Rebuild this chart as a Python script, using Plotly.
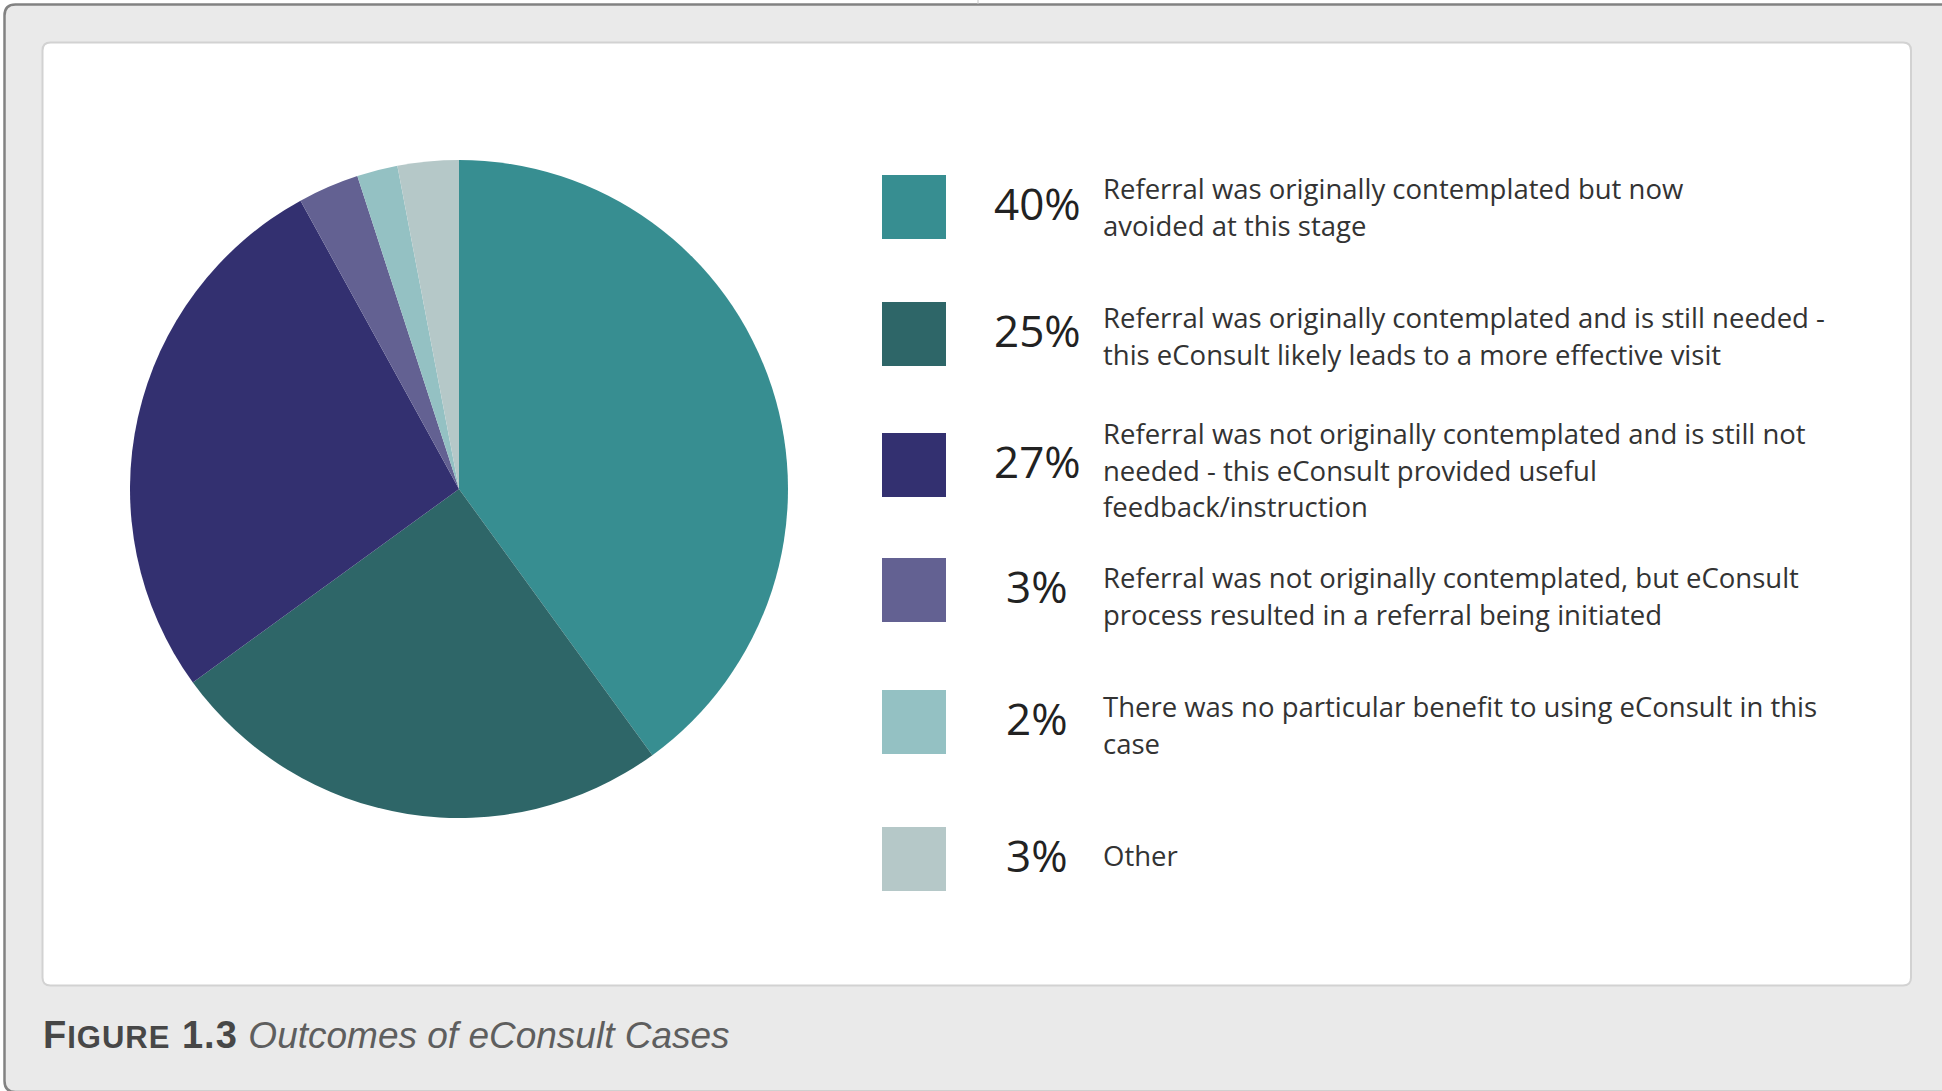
import plotly.graph_objects as go

# ---- data -------------------------------------------------------------
shares = [40, 25, 27, 3, 2, 3]
outcome_lines = [
    ["Referral was originally contemplated but now", "avoided at this stage"],
    ["Referral was originally contemplated and is still needed -",
     "this eConsult likely leads to a more effective visit"],
    ["Referral was not originally contemplated and is still not",
     "needed - this eConsult provided useful", "feedback/instruction"],
    ["Referral was not originally contemplated, but eConsult",
     "process resulted in a referral being initiated"],
    ["There was no particular benefit to using eConsult in this", "case"],
    ["Other"],
]
slice_colors = ["#378E91", "#2E6668", "#333070", "#636192", "#94C1C3", "#B5C8C8"]
caption_num = "1.3"
caption_title = "Outcomes of eConsult Cases"

# ---- page geometry (pixels) ------------------------------------------
W, H = 1942, 1091


def px(x):
    return x / W


def py(y):
    return 1 - y / H


def rounded_rect(x0, y0, x1, y1, r):
    pts = [
        f"M {px(x0 + r)},{py(y0)}",
        f"L {px(x1 - r)},{py(y0)}",
        f"Q {px(x1)},{py(y0)} {px(x1)},{py(y0 + r)}",
        f"L {px(x1)},{py(y1 - r)}",
        f"Q {px(x1)},{py(y1)} {px(x1 - r)},{py(y1)}",
        f"L {px(x0 + r)},{py(y1)}",
        f"Q {px(x0)},{py(y1)} {px(x0)},{py(y1 - r)}",
        f"L {px(x0)},{py(y0 + r)}",
        f"Q {px(x0)},{py(y0)} {px(x0 + r)},{py(y0)}",
        "Z",
    ]
    return " ".join(pts)


pie_cx, pie_cy, pie_r = 459, 489, 329
swatch_centers = [207, 334, 465, 590, 722, 859]
text_centers = [207, 336, 470, 596, 725, 855]
swatch = 64
swatch_x = 882
pct_x = 1037
text_x = 1101
line_gap = 36.5

fig = go.Figure()

fig.add_trace(go.Pie(
    values=shares,
    labels=[" ".join(l) for l in outcome_lines],
    marker=dict(colors=slice_colors, line=dict(width=0)),
    sort=False,
    direction="clockwise",
    rotation=0,
    textinfo="none",
    hoverinfo="skip",
    showlegend=False,
    domain=dict(x=[px(pie_cx - pie_r), px(pie_cx + pie_r)],
                y=[py(pie_cy + pie_r), py(pie_cy - pie_r)]),
))

shapes = [
    # outer grey frame
    dict(type="path", path=rounded_rect(4.5, 4.5, 1990, 1092, 11),
         xref="paper", yref="paper", fillcolor="#EAEAEA",
         line=dict(color="#828282", width=2.5), layer="below"),
    # small tick above the frame
    dict(type="line", x0=px(978), x1=px(978), y0=py(0), y1=py(4),
         xref="paper", yref="paper", line=dict(color="#C8C8C8", width=1), layer="below"),
    # white chart panel
    dict(type="path", path=rounded_rect(42.5, 42.5, 1911, 985.5, 8),
         xref="paper", yref="paper", fillcolor="#FFFFFF",
         line=dict(color="#D2D2D2", width=2), layer="below"),
]

annotations = []
for i, (val, lines, col) in enumerate(zip(shares, outcome_lines, slice_colors)):
    yc = swatch_centers[i]
    shapes.append(dict(type="rect", xref="paper", yref="paper",
                       x0=px(swatch_x), x1=px(swatch_x + swatch),
                       y0=py(yc + swatch / 2), y1=py(yc - swatch / 2),
                       fillcolor=col, line=dict(width=0), layer="above"))
    annotations.append(dict(
        x=px(pct_x), y=py(yc - 4), xref="paper", yref="paper",
        xanchor="center", yanchor="middle", showarrow=False,
        text=f"{val}%",
        font=dict(family="Open Sans", size=44, color="#222222"),
    ))
    n = len(lines)
    for j, line in enumerate(lines):
        ly = text_centers[i] + (j - (n - 1) / 2) * line_gap
        annotations.append(dict(
            x=px(text_x), y=py(ly), xref="paper", yref="paper",
            xanchor="left", yanchor="middle", showarrow=False,
            text=line,
            font=dict(family="Open Sans", size=27.5, color="#333333"),
        ))

# figure caption
annotations.append(dict(
    x=px(41), y=py(1035), xref="paper", yref="paper",
    xanchor="left", yanchor="middle", showarrow=False,
    text=(f"<span style='letter-spacing:1px'><b>F<span style='font-size:31px'>IGURE</span> "
          f"{caption_num}</b></span> "
          f"<i><span style='color:#5E5E5E;font-size:37px'>{caption_title}</span></i>"),
    font=dict(family="Liberation Sans, Arial", size=38, color="#474747"),
))

fig.update_layout(
    width=W, height=H, autosize=False,
    margin=dict(l=0, r=0, t=0, b=0, pad=0),
    paper_bgcolor="#FFFFFF", plot_bgcolor="#FFFFFF",
    shapes=shapes, annotations=annotations,
    showlegend=False,
)

fig.write_html("out.html", config={"displayModeBar": False})
